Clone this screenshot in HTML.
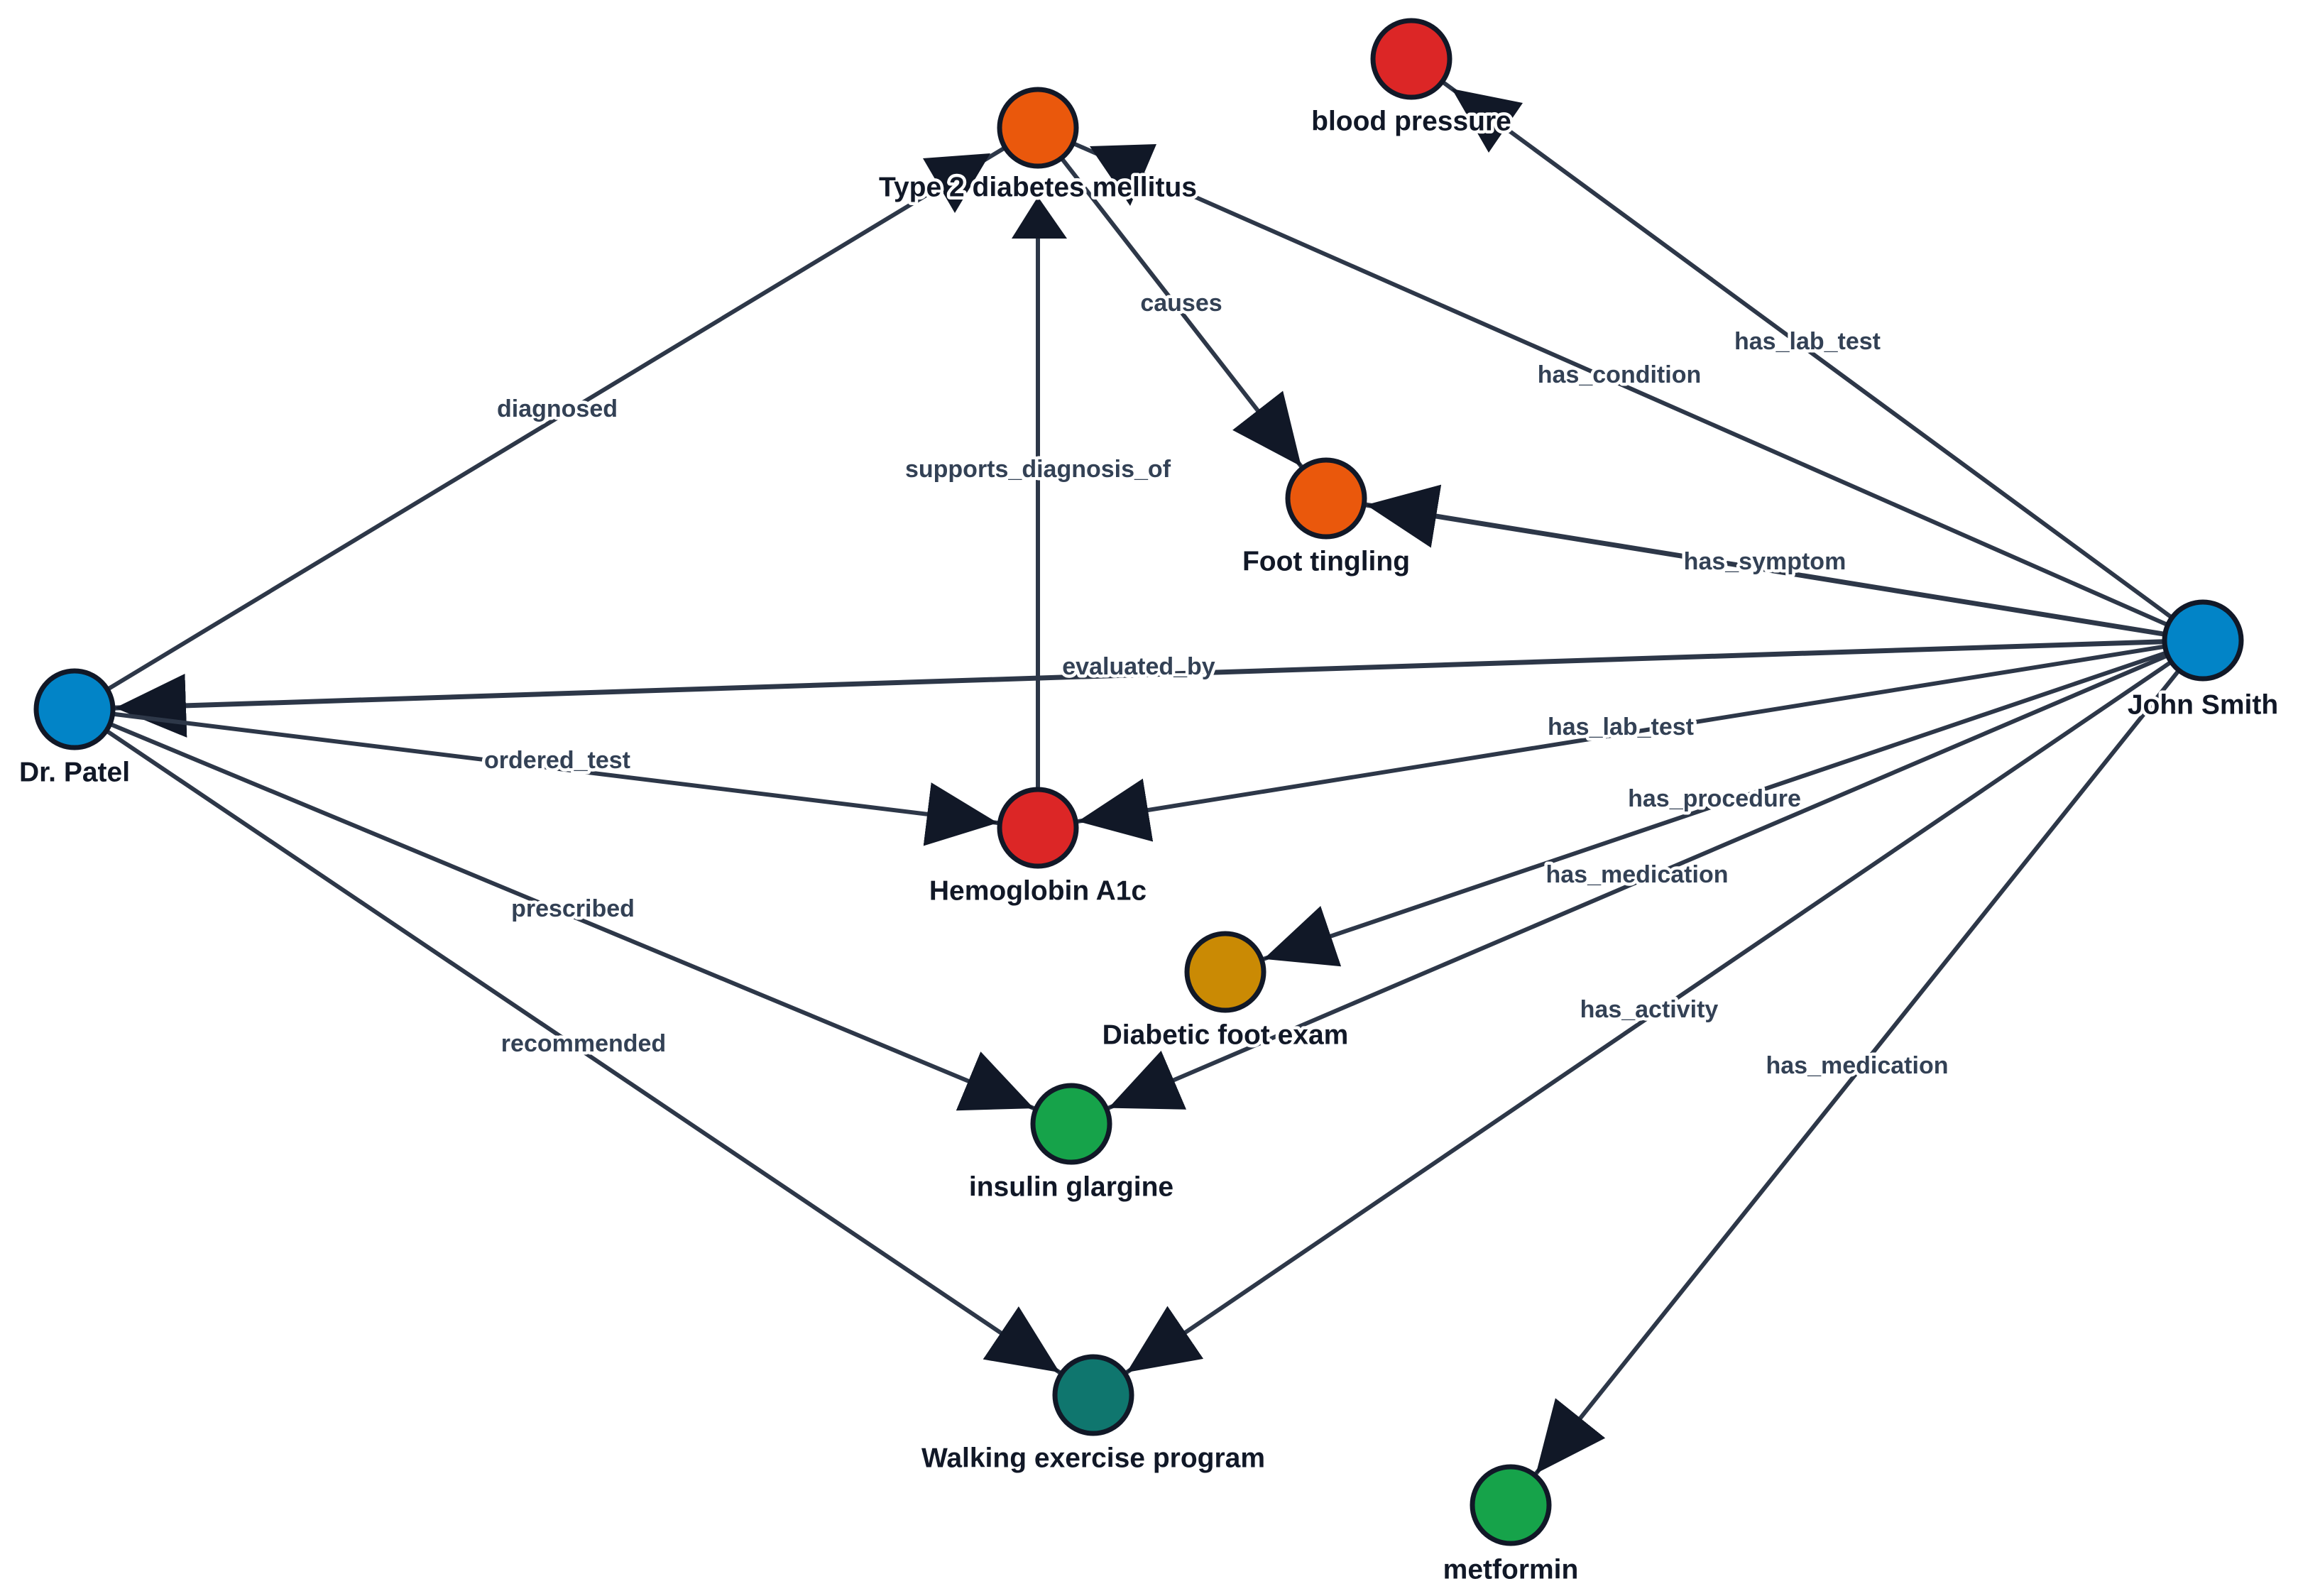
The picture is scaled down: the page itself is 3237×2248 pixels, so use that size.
<!DOCTYPE html>
<html><head><meta charset="utf-8"><style>
html,body{margin:0;padding:0;background:#fff;}
svg{display:block;}
.el{font-family:"Liberation Sans",sans-serif;font-weight:bold;font-size:34px;fill:#334155;text-anchor:middle;dominant-baseline:central;paint-order:stroke;stroke:#fff;stroke-width:9px;stroke-linejoin:round;}
.nl{font-family:"Liberation Sans",sans-serif;font-weight:bold;font-size:39px;fill:#111827;text-anchor:middle;dominant-baseline:central;paint-order:stroke;stroke:#fff;stroke-width:9px;stroke-linejoin:round;}
.e{stroke:#2d3748;stroke-width:6;fill:none;}
.n{stroke:#111827;stroke-width:7;}
</style></head><body>
<svg width="3237" height="2248" viewBox="0 0 3237 2248" xmlns="http://www.w3.org/2000/svg">
<defs>
<marker id="a" markerUnits="userSpaceOnUse" markerWidth="200" markerHeight="120" viewBox="0 -60 200 120" refX="157" refY="0" orient="auto">
<path d="M0,-45 L100,0 L0,45 z" fill="#111827"/>
</marker>
</defs>
<!-- edges -->
<line class="e" x1="105" y1="999" x2="1462" y2="180"/>
<line class="e" x1="1462" y1="1166" x2="1462" y2="300"/>
<polygon points="1425,336 1503,336 1462,277" fill="#111827"/>
<line class="e" x1="1462" y1="180" x2="1868" y2="702" marker-end="url(#a)"/>
<line class="e" x1="3103" y1="902" x2="1462" y2="180"/>
<line class="e" x1="3103" y1="902" x2="1988" y2="83"/>
<line class="e" x1="3103" y1="902" x2="1868" y2="702" marker-end="url(#a)" style="stroke-width:7"/>
<line class="e" x1="3103" y1="902" x2="105" y2="999" marker-end="url(#a)" style="stroke-width:7"/>
<line class="e" x1="105" y1="999" x2="1462" y2="1166" marker-end="url(#a)"/>
<line class="e" x1="3103" y1="902" x2="1462" y2="1166" marker-end="url(#a)"/>
<line class="e" x1="3103" y1="902" x2="1726" y2="1369" marker-end="url(#a)"/>
<line class="e" x1="3103" y1="902" x2="1509" y2="1583" marker-end="url(#a)"/>
<line class="e" x1="105" y1="999" x2="1509" y2="1583" marker-end="url(#a)"/>
<line class="e" x1="105" y1="999" x2="1540" y2="1965" marker-end="url(#a)"/>
<line class="e" x1="3103" y1="902" x2="1540" y2="1965" marker-end="url(#a)"/>
<line class="e" x1="3103" y1="902" x2="2128" y2="2120" marker-end="url(#a)"/>
<!-- odd arrowheads -->
<polygon points="1300,223 1395,216 1345,300" fill="#111827"/>
<polygon points="1535,206 1629,203 1592,290" fill="#111827"/>
<polygon points="2045,125 2145,145 2097,215" fill="#111827"/>
<!-- edge labels -->
<text class="el" x="785" y="576">diagnosed</text>
<text class="el" x="1462" y="661">supports_diagnosis_of</text>
<text class="el" x="1664" y="427">causes</text>
<text class="el" x="2281" y="528">has_condition</text>
<text class="el" x="2546" y="481">has_lab_test</text>
<text class="el" x="2486" y="791">has_symptom</text>
<text class="el" x="1604" y="939">evaluated_by</text>
<text class="el" x="785" y="1071">ordered_test</text>
<text class="el" x="2283" y="1024">has_lab_test</text>
<text class="el" x="2415" y="1125">has_procedure</text>
<text class="el" x="2306" y="1232">has_medication</text>
<text class="el" x="807" y="1280">prescribed</text>
<text class="el" x="822" y="1470">recommended</text>
<text class="el" x="2323" y="1422">has_activity</text>
<text class="el" x="2616" y="1501">has_medication</text>
<!-- nodes -->
<circle class="n" cx="1988" cy="83" r="54" fill="#dc2626"/>
<circle class="n" cx="1462" cy="180" r="54" fill="#ea580c"/>
<circle class="n" cx="1868" cy="702" r="54" fill="#ea580c"/>
<circle class="n" cx="3103" cy="902" r="54" fill="#0284c7"/>
<circle class="n" cx="105" cy="999" r="54" fill="#0284c7"/>
<circle class="n" cx="1462" cy="1166" r="54" fill="#dc2626"/>
<circle class="n" cx="1726" cy="1369" r="54" fill="#ca8a04"/>
<circle class="n" cx="1509" cy="1583" r="54" fill="#16a34a"/>
<circle class="n" cx="1540" cy="1965" r="54" fill="#0f766e"/>
<circle class="n" cx="2128" cy="2120" r="54" fill="#16a34a"/>
<!-- node labels -->
<text class="nl" x="1988" y="171">blood pressure</text>
<text class="nl" x="1462" y="264">Type 2 diabetes mellitus</text>
<text class="nl" x="1868" y="791">Foot tingling</text>
<text class="nl" x="3103" y="993">John Smith</text>
<text class="nl" x="105" y="1088">Dr. Patel</text>
<text class="nl" x="1462" y="1255">Hemoglobin A1c</text>
<text class="nl" x="1726" y="1458">Diabetic foot exam</text>
<text class="nl" x="1509" y="1672">insulin glargine</text>
<text class="nl" x="1540" y="2054">Walking exercise program</text>
<text class="nl" x="2128" y="2211">metformin</text>
</svg>
</body></html>
